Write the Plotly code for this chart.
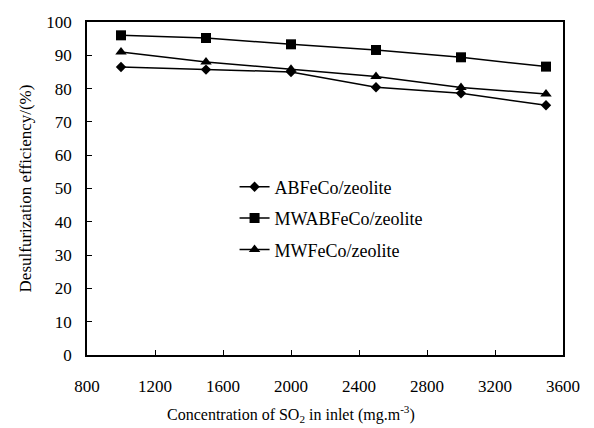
import plotly.graph_objects as go

conc = [1000, 1500, 2000, 2500, 3000, 3500]
abfeco = [86.5, 85.7, 85.0, 80.4, 78.6, 75.0]
mwabfeco = [96.0, 95.2, 93.3, 91.6, 89.4, 86.6]
mwfeco = [91.0, 88.0, 85.8, 83.6, 80.3, 78.4]

names = ["ABFeCo/zeolite", "MWABFeCo/zeolite", "MWFeCo/zeolite"]
series = [abfeco, mwabfeco, mwfeco]
symbols = ["diamond", "square", "triangle-up"]
sizes = [8, 10, 10]
x_title = "Concentration of SO<sub>2</sub> in inlet (mg.m<sup>-3</sup>)"
y_title = "Desulfurization efficiency/(%)"

font = "Liberation Serif"
fig = go.Figure()
for n, s, sym, sz in zip(names, series, symbols, sizes):
    fig.add_trace(go.Scatter(x=conc, y=s, name=n, mode="lines+markers", legendgroup=n,
                             line=dict(color="black", width=1.5),
                             marker=dict(symbol=sym, size=sz, color="black")))

fig.add_annotation(text=x_title, xref="paper", yref="paper", x=0.4286, y=-0.178,
                   xanchor="center", yanchor="middle", showarrow=False,
                   font=dict(family=font, size=16, color="black"))

fig.update_layout(
    width=594, height=428,
    margin=dict(l=87, r=31, t=22, b=73),
    paper_bgcolor="white", plot_bgcolor="white",
    font=dict(family=font, size=17, color="black"),
    showlegend=True,
    legend=dict(x=0.31, y=0.56, xanchor="left", yanchor="top",
                bgcolor="rgba(0,0,0,0)", font=dict(size=18),
                tracegroupgap=5, itemwidth=30),
    xaxis=dict(range=[800, 3600], tickvals=[800, 1200, 1600, 2000, 2400, 2800, 3200, 3600],
               ticks="inside", ticklen=5, tickcolor="black", showgrid=False, zeroline=False,
               ticklabelstandoff=15,
               showline=True, linecolor="black", linewidth=1.5, mirror=True),
    yaxis=dict(range=[0, 100], dtick=10,
               ticks="inside", ticklen=5, tickcolor="black", showgrid=False, zeroline=False,
               ticklabelstandoff=10,
               showline=True, linecolor="black", linewidth=1.5, mirror=True,
               title=dict(text=y_title, standoff=10, font=dict(size=17))),
)
fig.write_html("out.html")
